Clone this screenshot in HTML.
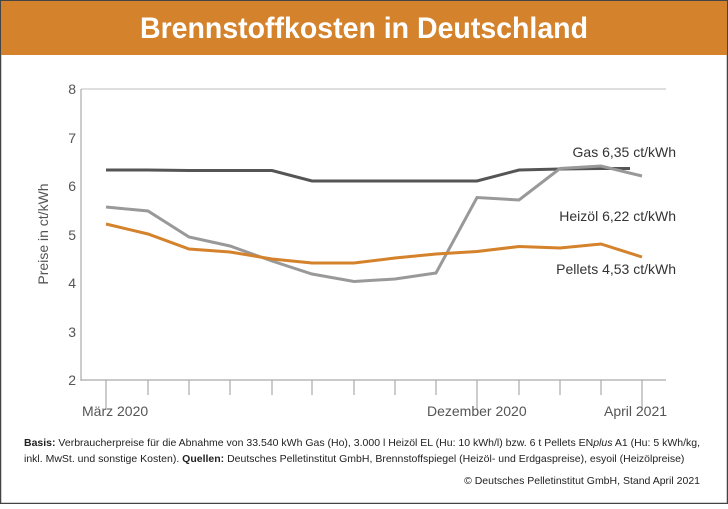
<!DOCTYPE html><html><head><meta charset="utf-8"><style>
body{margin:0;width:728px;height:504px;overflow:hidden;background:#fff;font-family:"Liberation Sans",sans-serif}
</style></head><body>
<svg width="728" height="504" xmlns="http://www.w3.org/2000/svg" font-family="Liberation Sans, sans-serif">
<rect x="0.5" y="0.5" width="727" height="503" fill="#fff" stroke="#444" stroke-width="1.5"/>
<rect x="1" y="1" width="726" height="54" fill="#d4822b"/>
<text x="364" y="38" text-anchor="middle" font-size="30" font-weight="bold" fill="#fff" transform="translate(364 0) scale(0.95 1) translate(-364 0)">Brennstoffkosten in Deutschland</text>
<line x1="81" y1="89" x2="666" y2="89" stroke="#ccc" stroke-width="1.2"/>
<line x1="81" y1="89" x2="81" y2="381" stroke="#aaa" stroke-width="1.2"/>
<line x1="81" y1="380" x2="666" y2="380" stroke="#aaa" stroke-width="1.2"/>
<g font-size="14" fill="#555" text-anchor="end">
<text x="76" y="94">8</text><text x="76" y="143">7</text><text x="76" y="191">6</text><text x="76" y="240">5</text><text x="76" y="288">4</text><text x="76" y="337">3</text><text x="76" y="385">2</text></g>
<text transform="translate(48 234) rotate(-90)" text-anchor="middle" font-size="14" fill="#555">Preise in ct/kWh</text>
<g stroke="#aaa" stroke-width="1.2">
<line x1="106" y1="380" x2="106" y2="410"/><line x1="148" y1="380" x2="148" y2="395"/><line x1="189" y1="380" x2="189" y2="395"/><line x1="230" y1="380" x2="230" y2="395"/><line x1="272" y1="380" x2="272" y2="395"/><line x1="312" y1="380" x2="312" y2="395"/><line x1="354" y1="380" x2="354" y2="395"/><line x1="395" y1="380" x2="395" y2="395"/><line x1="436" y1="380" x2="436" y2="395"/><line x1="477" y1="380" x2="477" y2="410"/><line x1="519" y1="380" x2="519" y2="395"/><line x1="560" y1="380" x2="560" y2="395"/><line x1="601" y1="380" x2="601" y2="395"/><line x1="642" y1="380" x2="642" y2="410"/></g>
<g font-size="14" fill="#555"><text x="82" y="416">März 2020</text><text x="427" y="416">Dezember 2020</text><text x="604" y="416">April 2021</text></g>
<polyline fill="none" stroke="#555" stroke-width="3" points="106,170 148,170 189,170.5 230,170.5 272,170.5 312,181 354,181 395,181 436,181 477,181 519,170 560,169 601,168.5 630,168.5"/>
<polyline fill="none" stroke="#999" stroke-width="3" points="106,207 148,211 189,237 230,246 272,261 312,274 354,281.5 395,279 436,273 477,197.5 519,200 560,168.5 601,166 642,176"/>
<polyline fill="none" stroke="#d4822b" stroke-width="3" points="106,224 148,234 189,249 230,252 272,259 312,263 354,263 395,258 436,254 477,251.5 519,246.5 560,248 601,244 642,257"/>
<g font-size="14" fill="#333" text-anchor="end"><text x="676" y="157">Gas 6,35 ct/kWh</text><text x="676" y="221">Heizöl 6,22 ct/kWh</text><text x="676" y="274">Pellets 4,53 ct/kWh</text></g>
<g font-size="10.5" fill="#222"><text x="24" y="446"><tspan font-weight="bold">Basis:</tspan> Verbraucherpreise für die Abnahme von 33.540 kWh Gas (Ho), 3.000 l Heizöl EL (Hu: 10 kWh/l) bzw. 6 t Pellets EN<tspan font-style="italic">plus</tspan> A1 (Hu: 5 kWh/kg,</text>
<text x="24" y="462">inkl. MwSt. und sonstige Kosten). <tspan font-weight="bold">Quellen:</tspan> Deutsches Pelletinstitut GmbH, Brennstoffspiegel (Heizöl- und Erdgaspreise), esyoil (Heizölpreise)</text>
<text x="700" y="484" text-anchor="end">© Deutsches Pelletinstitut GmbH, Stand April 2021</text></g>
</svg></body></html>
